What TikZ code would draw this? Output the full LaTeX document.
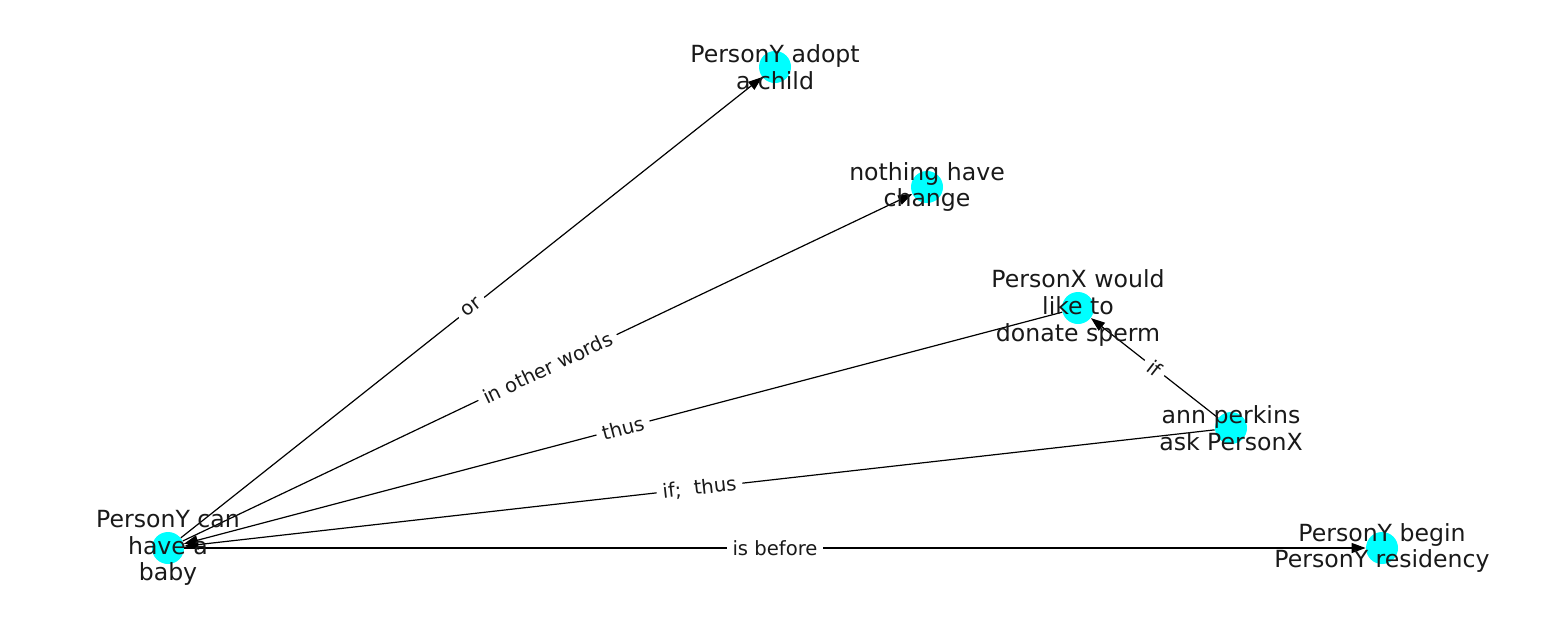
\documentclass[tikz,border=0pt]{standalone}
\usepackage{fontspec}
\setmainfont{DejaVu Sans}
\usetikzlibrary{arrows.meta}
\definecolor{nodecyan}{RGB}{0,255,255}

\begin{document}
\begin{tikzpicture}[x=0.5pt,y=-0.5pt,
  vertex/.style={circle, fill=nodecyan, inner sep=0pt, minimum size=16pt},
  caption/.style={align=center, font=\fontsize{11.8}{13.3}\selectfont, text=black!90},
  link/.style={line width=0.6pt, -{Triangle[length=7pt,width=5pt]}},
  tag/.style={sloped, fill=white, inner sep=3pt, font=\fontsize{9.8}{11}\selectfont, text=black!90}]
\useasboundingbox (0,0) rectangle (1550,616);
% nodes
\node[vertex] (baby) at (168,548) {};
\node[vertex] (adopt) at (775,67) {};
\node[vertex] (change) at (927,187) {};
\node[vertex] (donate) at (1078,308) {};
\node[vertex] (ask) at (1231,428) {};
\node[vertex] (residency) at (1382,548) {};
% edges
\draw[link] (baby) -- node[tag] {or} (adopt);
\draw[link] (baby) -- node[tag] {in other words} (change);
\draw[link] (donate) -- node[tag] {thus} (baby);
\draw[link] (ask) -- node[tag] {if;\ \ thus} (baby);
\draw[link] (ask) -- node[tag] {if} (donate);
\draw[link] (baby) -- node[tag] {is before} (residency);
% labels
\node[caption] (lbaby) at (baby) {PersonY can\\have a\\baby};
\node[caption] (ladopt) at (adopt) {PersonY adopt\\a child};
\node[caption] (lchange) at (change) {nothing have\\change};
\node[caption] (ldonate) at (donate) {PersonX would\\like to\\donate sperm};
\node[caption] (lask) at (ask) {ann perkins\\ask PersonX};
\node[caption] (lresidency) at (residency) {PersonY begin\\PersonY residency};
\end{tikzpicture}
\end{document}
